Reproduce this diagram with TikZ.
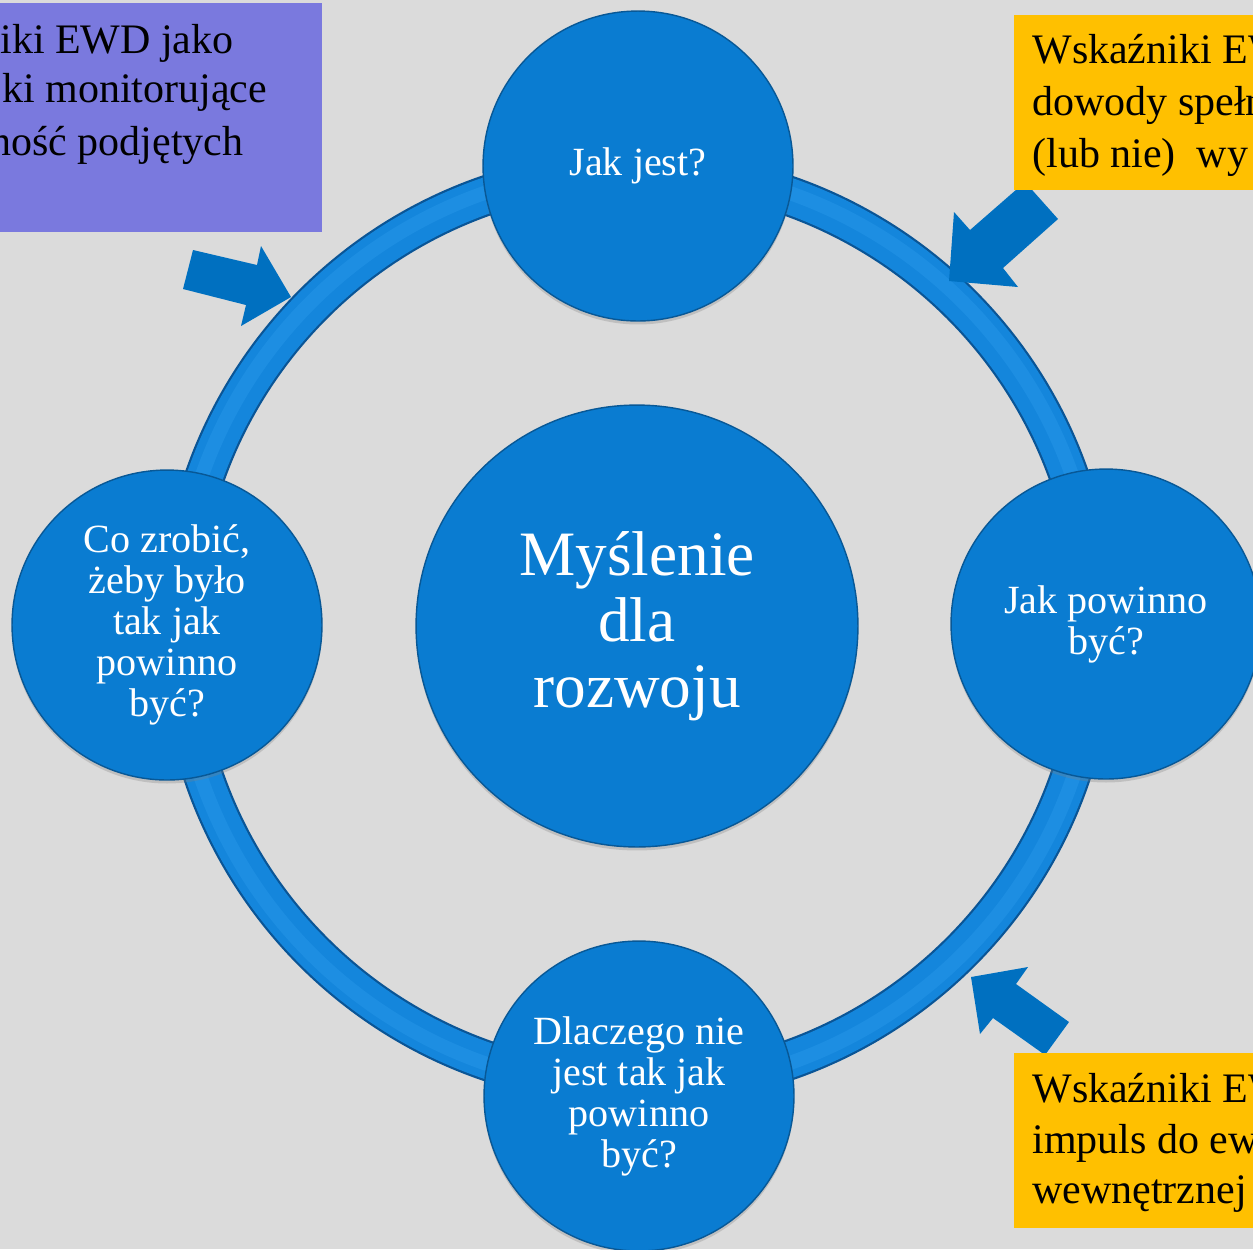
\documentclass[tikz,border=0pt]{standalone}
\usepackage{fontspec}
\setmainfont{Liberation Serif}
\usetikzlibrary{shadows}
\definecolor{bgc}{RGB}{219,219,219}
\definecolor{cblue}{RGB}{10,124,209}
\definecolor{cedge}{RGB}{8,88,150}
\definecolor{ringdark}{RGB}{10,85,150}
\definecolor{ringmid}{RGB}{20,134,220}
\definecolor{ringlight}{RGB}{36,148,230}
\definecolor{arrblue}{RGB}{0,112,192}
\definecolor{orangec}{RGB}{255,192,0}
\definecolor{purplec}{RGB}{122,121,222}
\tikzset{
  bub/.style={circle, fill=cblue, draw=cedge, line width=0.8pt, text=white, align=center,
    inner sep=0pt, minimum size=6.2cm,
    drop shadow={shadow xshift=0pt, shadow yshift=-2pt, opacity=0.3},
    font=\fontsize{22.8pt}{23.3pt}\selectfont},
  bigbub/.style={bub, minimum size=8.84cm, font=\fontsize{36pt}{37.6pt}\selectfont},
  blockarrow/.style={fill=arrblue},
  boxtxt/.style={anchor=base west, inner sep=0pt, text=black, font=\fontsize{23.9pt}{29.6pt}\selectfont},
  obox/.style={fill=orangec, draw=none, inner sep=0pt},
  pbox/.style={fill=purplec, draw=none, inner sep=0pt}
}
\begin{document}
\begin{tikzpicture}[x=0.02cm,y=-0.02cm]
\useasboundingbox (0,0) rectangle (1253,1249);
\clip (0,0) rectangle (1253,1249);
\fill[bgc] (0,0) rectangle (1253,1249);

% ring
\coordinate (rc) at (637,628);
\draw[ringdark, line width=23pt] (rc) circle [radius=9.16cm];
\draw[ringmid, line width=20.5pt] (rc) circle [radius=9.16cm];
\draw[ringlight, line width=8pt, opacity=0.6] (rc) circle [radius=9.22cm];

% block arrows
\fill[blockarrow] (193,250) -- (257,265) -- (261,246) -- (291,297) -- (241,326) -- (246,305) -- (183,289) -- cycle;
\fill[blockarrow] (1025,182) -- (1058,219) -- (1003,268) -- (1018,287) -- (949,281) -- (954,212) -- (970,230) -- cycle;
\fill[blockarrow] (1069,1022) -- (1016,984) -- (1028,967) -- (971,977) -- (980,1034) -- (993,1018) -- (1045,1055) -- cycle;

% circles
\node[bub] (top) at (638,166) {Jak jest?};
\node[bub] (right) at (1106,624) {Jak powinno\\być?};
\node[bub] (bottom) at (639,1096) {Dlaczego nie\\jest tak jak\\powinno\\być?};
\node[bub] (left) at (167,625) {Co zrobić,\\żeby było\\tak jak\\powinno\\być?};
\node[bigbub] (center) at (637,626) {Myślenie\\dla\\rozwoju};

% boxes
\node[pbox, minimum width=6.64cm, minimum height=4.58cm] (purple) at (156,117.5) {};
\node[boxtxt] (p1) at (0,53) {iki EWD jako};
\node[boxtxt] (p2) at (2,102) {ki monitorujące};
\node[boxtxt] (p3) at (-10,155) {ność podjętych};

\node[obox, minimum width=5.0cm, minimum height=3.5cm] (otop) at (1139,102.5) {};
\node[boxtxt] (o1) at (1032,63) {Wskaźniki EW};
\node[boxtxt] (o2) at (1032,115) {dowody spełn};
\node[boxtxt] (o3) at (1032,167) {(lub nie)\ \ wy};

\node[obox, minimum width=5.0cm, minimum height=3.5cm] (obot) at (1139,1140.5) {};
\node[boxtxt] (b1) at (1032,1102) {Wskaźniki EW};
\node[boxtxt] (b2) at (1032,1153) {impuls do ew};
\node[boxtxt] (b3) at (1032,1203) {wewnętrznej};
\end{tikzpicture}
\end{document}
